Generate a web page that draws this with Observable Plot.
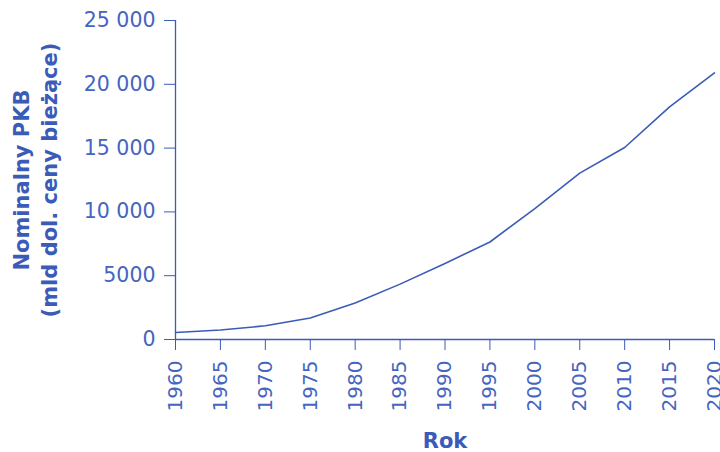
<!DOCTYPE html>
<html><head><meta charset="utf-8">
<script src="https://cdn.jsdelivr.net/npm/d3@7"></script>
<script src="https://cdn.jsdelivr.net/npm/@observablehq/plot@0.6"></script>
<style>
html,body{margin:0;padding:0;background:#fff;}
svg{display:block;}
</style>
</head><body><div id="chart"></div>
<script>
const years = [1960,1965,1970,1975,1980,1985,1990,1995,2000,2005,2010,2015,2020];
const gdp = [543,743,1073,1685,2857,4339,5963,7640,10252,13037,15049,18238,20894];
const yTicks = [0,5000,10000,15000,20000,25000];
const xLabel = "Rok";
const yLabel = "Nominalny PKB\n(mld dol. ceny bieżące)";

const data = years.map((y,i)=>({year:y, value:gdp[i]}));
const color = "#3b5bb8";
const tickColor = "#4565c0";
const fmt = d => d >= 10000 ? d3.format(",")(d).replace(/,/g, " ") : String(d);

const chart = Plot.plot({
  width: 720,
  height: 452,
  marginLeft: 175,
  marginRight: 6,
  marginTop: 20,
  marginBottom: 113,
  style: {fontFamily: "DejaVu Sans", fontSize: "20px", color: tickColor, background: "#fff"},
  x: {domain: [1960, 2020]},
  y: {domain: [0, 25000]},
  marks: [
    Plot.ruleX([1960], {stroke: color, strokeWidth: 1.3}),
    Plot.ruleY([0], {stroke: color, strokeWidth: 1.3}),
    Plot.axisY({ticks: yTicks, tickFormat: fmt, tickSize: 11, tickPadding: 9, stroke: color, strokeOpacity: 1,
      fontSize: 20.5, fill: tickColor,
      label: yLabel, labelAnchor: "center", labelArrow: "none", labelOffset: 161}),
    Plot.axisX({ticks: years, tickFormat: d => String(d), tickSize: 11, tickPadding: 10, tickRotate: -90,
      fontSize: 20, fill: tickColor, stroke: color, strokeOpacity: 1, label: null}),
    Plot.axisX({ticks: [], label: xLabel, labelAnchor: "center", labelArrow: "none", labelOffset: 108}),
    Plot.lineY(data, {x: "year", y: "value", stroke: color, strokeWidth: 1.6})
  ]
});
d3.select(chart).selectAll("[aria-label='x-axis label'] text, [aria-label='y-axis label'] text")
  .attr("font-weight", "bold").attr("font-size", "21px").attr("fill", color);
d3.select(chart).selectAll("[aria-label='y-axis label'] text tspan").each(function(d, i) {
  if (i > 0) d3.select(this).attr("dy", "1.33em");
});
document.getElementById("chart").appendChild(chart);
</script>
</body></html>
